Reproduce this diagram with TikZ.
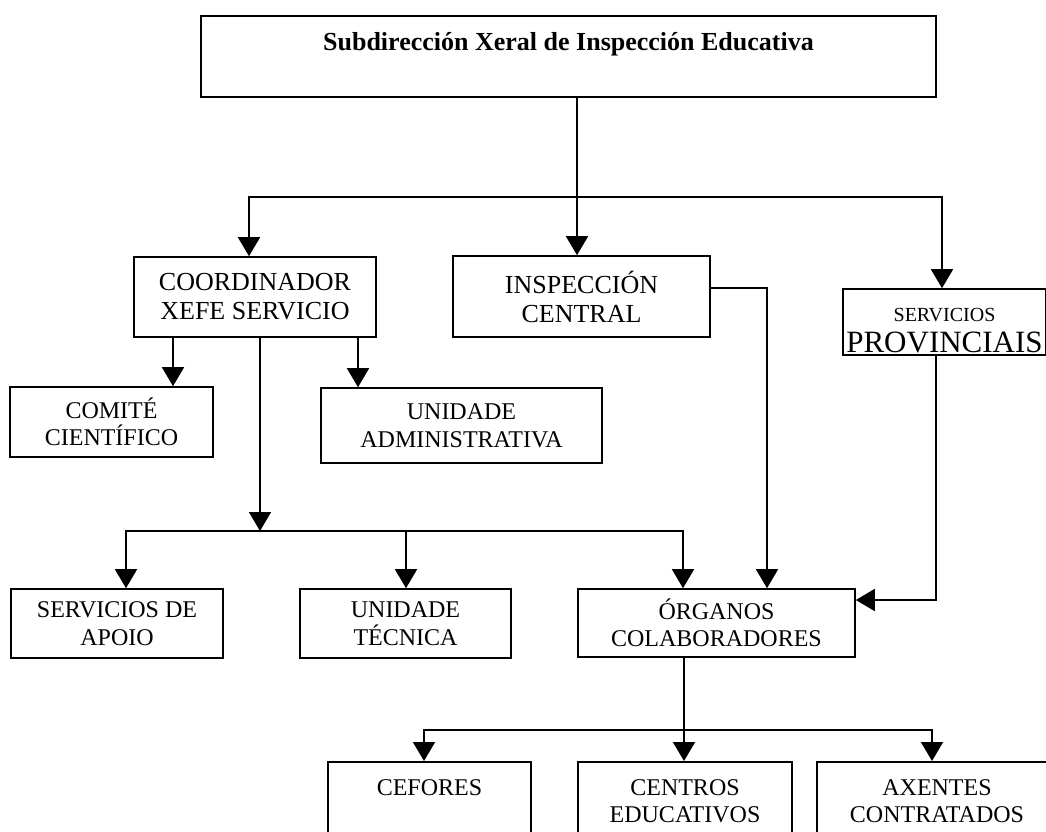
\documentclass[tikz,border=0pt]{standalone}
\usepackage{fontspec}
\setmainfont{Liberation Serif}
\usepackage{tikz}
\usetikzlibrary{arrows.meta}
\usetikzlibrary{positioning}

\begin{document}
\begin{tikzpicture}[x=1pt, y=-1pt,
        box/.style={rectangle, draw=black, line width=1.6pt, inner sep=0pt, align=center, font=\fontsize{24}{27.5}\selectfont},
        bigbox/.style={box, font=\fontsize{26}{29}\selectfont},
        head/.style={box, font=\bfseries\fontsize{26}{30}\selectfont, text height=35pt, text depth=46pt, anchor=north},
        lowbox/.style={box, minimum height=79pt, anchor=north},
        arrow/.style={-{Triangle[width=22pt, length=19pt]}, line width=1.6pt},
        line/.style={line width=1.6pt}
      ]
        \useasboundingbox (0,0) rectangle (1046,831);

        \node[head]    (top)     at (568.5, 15)   [minimum width=735pt]                  {Subdirección Xeral de Inspección Educativa};
        \node[bigbox]  (coord)   at (255, 297)    [minimum width=242pt, minimum height=80pt] {COORDINADOR\\XEFE SERVICIO};
        \node[bigbox]  (insp)    at (581.5, 296.5) [minimum width=257pt, minimum height=81pt] {INSPECCIÓN\\CENTRAL};
        \node[box]     (prov)    at (944.5, 322)  [minimum width=203pt, minimum height=66pt, font=\fontsize{31}{31}\selectfont]
                                                   {\rule{0pt}{31pt}{\fontsize{20}{20}\selectfont SERVICIOS}\\PROVINCIAIS};
        \node[box]     (comite)  at (111.5, 422)  [minimum width=203pt, minimum height=70pt] {COMITÉ\\CIENTÍFICO};
        \node[box]     (uadmin)  at (461.5, 425.5) [minimum width=281pt, minimum height=75pt] {UNIDADE\\ADMINISTRATIVA};
        \node[box]     (apoio)   at (117, 623.5)  [minimum width=212pt, minimum height=69pt] {SERVICIOS DE\\APOIO};
        \node[box]     (utec)    at (405.5, 623.5) [minimum width=211pt, minimum height=69pt] {UNIDADE\\TÉCNICA};
        \node[box]     (org)     at (716.5, 623)  [minimum width=277pt, minimum height=68pt] {ÓRGANOS\\COLABORADORES};
        \node[box]     (cefores) at (429.5, 761)  [minimum width=203pt, text height=34pt, text depth=45pt, anchor=north] {CEFORES};
        \node[lowbox]  (centros) at (685, 761)    [minimum width=214pt]                  {CENTROS\\EDUCATIVOS};
        \node[lowbox]  (axentes) at (937, 761)    [minimum width=240pt]                  {AXENTES\\CONTRATADOS};

        \coordinate (split) at (577, 197);
        \coordinate (mid)   at (260, 531);
        \coordinate (low)   at (684, 730);

        \draw[arrow]  (top.south -| split) -- (split) -- (split |- insp.north);
        \draw[arrow]  (split) -| ([xshift=-6pt]coord.north);
        \draw[arrow]  (split) -| ([xshift=-2.5pt]prov.north);

        \draw[arrow]  ([xshift=-82pt]coord.south) coordinate (c1) -- (c1 |- comite.north);
        \draw[arrow]  ([xshift=103pt]coord.south) coordinate (c2) -- (c2 |- uadmin.north);
        \draw[arrow]  (coord.south -| mid) -- (mid);

        \draw[arrow]  (mid) -| ([xshift=9pt]apoio.north);
        \draw[arrow]  (mid) -| ([xshift=0.5pt]utec.north);
        \draw[arrow]  (mid) -| ([xshift=-33.5pt]org.north);

        \draw[arrow]  ([yshift=8.5pt]insp.east) -| ([xshift=50.5pt]org.north);
        \draw[arrow]  ([xshift=-8.5pt]prov.south) |- ([yshift=23pt]org.east);

        \draw[line]   (org.south -| low) -- (low);
        \draw[arrow]  (low) -| ([xshift=-5.5pt]cefores.north);
        \draw[arrow]  (low) -- (low |- centros.north);
        \draw[arrow]  (low) -| ([xshift=-5pt]axentes.north);
      \end{tikzpicture}
\end{document}
